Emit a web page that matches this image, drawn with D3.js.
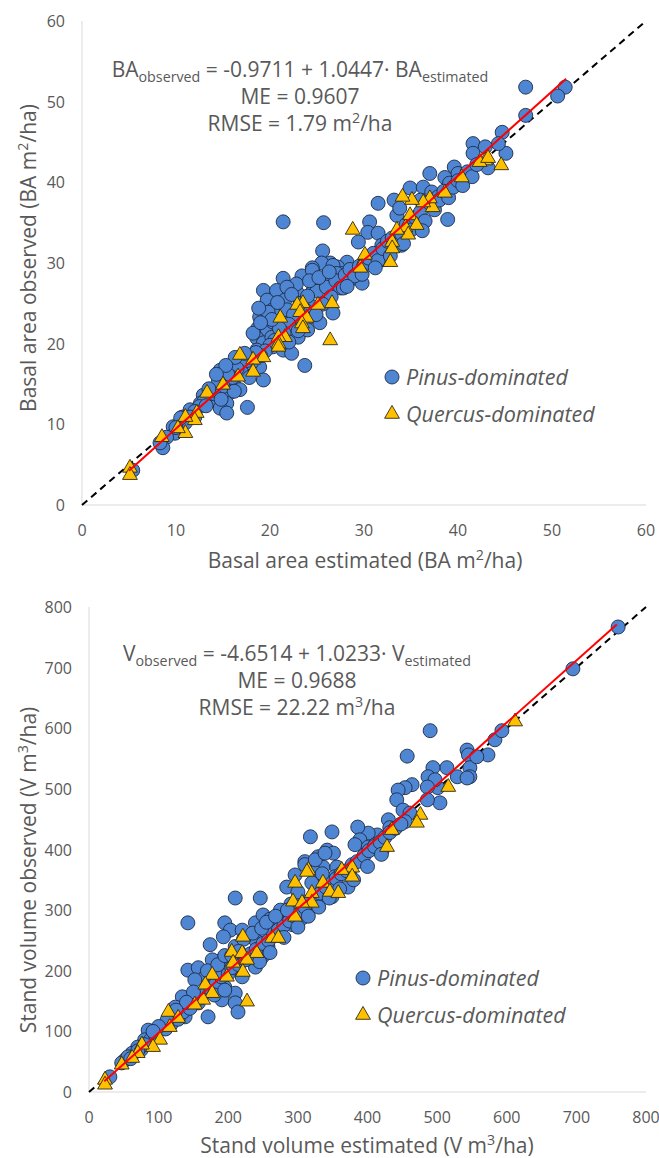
<!DOCTYPE html>
<html><head><meta charset="utf-8">
<script src="https://cdnjs.cloudflare.com/ajax/libs/d3/7.8.5/d3.min.js"></script>
<style>
html,body{margin:0;padding:0;background:#fff;}
svg{display:block;}
text{font-family:"Open Sans",sans-serif;fill:#595959;}
</style></head>
<body>
<svg id="chart" width="659" height="1158"></svg>
<script>
// ---------- DATA (top: basal area, m2/ha) ----------
const baTicks = [0,10,20,30,40,50,60];
const pinusBA = [
[21.4,35.1],[25.7,35],[25.6,31.5],[47.2,51.8],[51.4,51.8],[50.6,50.7],[47.2,48.3],[45.1,43.6],[44.7,46.2],[44.3,44.8],
[41.6,44.8],[42.9,44.4],[41.6,43.6],[43.2,41.8],[39.6,41.9],[40,41.1],[37,41.1],[38.6,40.6],[39.1,39.9],[34.9,39.3],
[36.3,39.4],[37.2,38.8],[37.9,38.2],[36,37.8],[38.9,35.4],[31.5,37.4],[33.2,37.8],[33.5,35.9],[33.8,36.8],[30.6,35.1],
[30.4,33.8],[31.5,33.7],[29.4,32.6],[31.9,32.2],[34,32.2],[32,30.4],[31,30.4],[28.2,30.1],[27.2,29.5],[26.4,30],
[25.5,30],[24.5,29.4],[23.4,28.4],[21.4,28.1],[19.3,26.6],[27.7,28.7],[28.5,27.9],[29.8,27.5],[24.5,29.1],[26.7,29.7],
[19.7,25.4],[20.7,26.6],[21.6,25.4],[22.9,26.3],[24.6,26.6],[26.1,27.5],[27.1,28.7],[18.9,23.3],[20.3,24.2],[18.7,21.9],
[19.7,21.7],[21.1,22.1],[22.1,22.9],[24.6,23.3],[25.3,22.6],[26.7,23.8],[18.6,20.7],[19.3,20.1],[20.3,19.6],[21.4,19.2],
[22.3,18.8],[23.7,17.3],[23,20.8],[24,21.7],[18.6,19.2],[17.6,18.3],[16.8,17.6],[16.1,17.1],[17.9,17.1],[18.9,17.1],
[19.3,15.5],[14.7,16.7],[15.2,15.5],[16.1,15.1],[16.8,14.3],[15.7,13.9],[14.4,14.3],[13.9,13],[12.9,13.6],[15.4,12.6],
[17.6,12.1],[14.7,12],[15.4,11.4],[12.6,12.6],[11.5,11.8],[12,10.9],[10.7,10.9],[10.4,9.9],[9.7,9.7],[9.9,8.9],
[9,8.4],[8.6,7.1],[8.3,7.7],[5.4,4.3],[23.2,25],[21.8,24.2],[23.2,23.3],[21.1,20.8],[20.2,20.8],[20.3,22.7],
[25,26.5],[26,27],[27,27.8],[27.5,26.9],[28,28.5],[28.5,29.2],[29,28.4],[29.5,29.6],[30,29.8],[30.5,30.6],
[31,31.2],[31.5,30.3],[32,31.8],[32.5,32.7],[33,33.1],[33.5,32.2],[34,33.6],[34.5,34.8],[35,34.1],[35.5,35.6],
[36,36.3],[36.5,35.2],[37,37.4],[37.5,36.6],[38,37.8],[38.5,38.9],[39,38.1],[39.5,39.4],[40,40.2],[40.5,39.6],
[41,41.3],[41.5,40.7],[42,42.2],[26.5,25.8],[27.8,26.9],[24.5,24.6],[24,25.9],[23.8,24.1],[22.5,23.6],[22,22.4],
[21.5,21.3],[21,21.9],[20.5,20.4],[20,19.8],[19.5,19.1],[19,18.5],[18.5,18.9],[18,17.6],[17.5,17.9],[17,16.4],
[16.5,16.9],[16,15.8],[15.5,16.2],[15,14.7],[14.5,15.3],[14,13.8],[13.5,14.4],[13,12.9],[12.5,12.2],[12,11.6],
[11.5,10.9],[11,10.2],[10.5,10.8],[10,9.6],[22.8,27.4],[21.8,27],[24.2,27.8],[25.2,28.2],[26.3,28.9],[20.8,25.1],
[19.8,23.9],[22.3,26.1],[25.6,24.9],[28.2,27.1],[29.8,28.6],[31.2,29.4],[32.8,30.9],[34.2,32.4],[36.2,34],[24.9,23.6],
[23,21.6],[22,20.2],[17.8,15.8],[16.2,14.1],[14.8,13.1],[13.2,12.3],[20.2,23],[18.2,21.3],[19,22.6],[18.8,24.4],
[17.3,18.8],[16.3,18.3],[15.3,17.3],[14.3,16.2]
];
const quercusBA = [
[44.6,42.1],[42.9,42.7],[42.3,42.5],[43.2,43],[40.4,40.6],[38.6,38.7],[37.3,36.9],[37,38],[36.3,37.5],[35.1,37.8],
[34.1,38.2],[34.9,35.9],[35.6,34.7],[34.4,34.4],[34.7,33.5],[33.5,34.1],[33,32.6],[33,31.8],[32.8,30.1],[30.1,31],
[28.8,34.1],[29.6,29.4],[26.4,20.4],[26.6,25],[25.1,24.8],[23.5,25],[22.9,24.8],[23.2,23.9],[23.9,23.2],[23.4,22.5],
[23.5,21.9],[21.1,23.2],[21.6,20.8],[20.9,20.8],[20.9,20],[20.9,19.6],[19.3,18.3],[18.2,18],[18.2,16.5],[16.8,18.6],
[16.6,15.9],[15,14.9],[13.3,13.9],[12.2,11.4],[12,10.5],[11,10.9],[11,8.9],[10.2,9.5],[8.5,8.4],[5.1,4.6],[5.1,3.7]
];
const baFit = {intercept:-0.9711, slope:1.0447, from:5, to:51.5};

// ---------- DATA (bottom: stand volume, m3/ha) ----------
const vTicks = [0,100,200,300,400,500,600,700,800];
const pinusV = [
[490,596],[457,554],[543,564],[545,556],[573,556],[583,581],[593,596],[547,535],[547,520],[557,553],
[514,535],[494,535],[487,520],[529,520],[543,518],[501,502],[497,515],[486,503],[504,477],[486,482],
[464,507],[454,502],[444,498],[442,482],[451,465],[461,460],[454,446],[430,449],[432,436],[414,424],
[401,427],[386,437],[389,416],[382,408],[401,404],[411,408],[421,399],[318,421],[349,429],[342,399],
[351,394],[329,388],[310,380],[336,371],[322,366],[356,371],[375,366],[760,767],[695,698],
[210,320],[246,320],[142,279],[174,243],[142,201],[157,205],[195,279],[203,267],[193,256],[220,267],
[239,279],[250,292],[274,284],[284,338],[296,358],[310,375],[325,383],[339,394],[315,300],[307,314],
[335,322],[349,322],[339,350],[353,355],[372,338],[263,267],[277,272],[292,276],[306,287],[239,251],
[257,240],[224,223],[239,206],[249,223],[210,213],[191,218],[177,218],[167,190],[152,185],[181,180],
[195,173],[210,163],[191,152],[210,147],[214,132],[171,124],[157,147],[142,152],[134,157],[124,140],
[138,124],[114,119],[105,107],[85,102],[80,86],[70,74],[62,64],[52,53],[47,48],[30,25],[56,58],
[60,55],[75,70],[88,85],[95,95],[110,104],[118,112],[128,120],[135,132],[145,138],[150,150],
[160,155],[165,165],[175,170],[182,178],[190,190],[200,195],[205,205],[215,210],[225,218],[232,228],
[240,235],[250,245],[258,250],[265,262],[272,268],[280,275],[288,282],[295,290],[302,298],[310,305],
[318,315],[325,322],[332,328],[340,338],[348,345],[355,352],[362,360],[370,365],[378,375],[385,380],
[395,390],[402,398],[410,405],[418,412],[425,420],[432,428],[440,435],[448,442],[170,200],[185,210],
[195,225],[210,240],[222,252],[235,262],[248,270],[260,285],[275,300],[290,310],[300,330],[320,345],
[335,360],[180,160],[195,168],[220,190],[245,215],[260,230],[280,255],[300,272],[315,290],[330,305],
[345,320],[360,335],[380,350],[400,372],[420,392],[205,225],[215,232],[255,280],[268,290],[285,300],
[150,165],[140,148],[125,135],[112,118],[100,108],[92,100],[80,78],[70,68]
];
const quercusV = [
[612,611],[516,503],[476,457],[471,444],[435,432],[428,404],[378,370],[363,366],[315,366],
[313,363],[296,345],[336,345],[346,330],[358,328],[320,328],[293,314],[320,312],[306,312],[296,289],
[263,254],[272,254],[221,256],[205,231],[220,229],[241,229],[227,218],[207,213],[221,198],[198,190],
[177,193],[167,177],[177,163],[164,152],[227,149],[152,144],[114,132],[128,122],[116,107],[102,86],
[92,74],[76,78],[70,64],[62,56],[47,45],[23,20],[23,12],[378,355]
];
const vFit = {intercept:-4.6514, slope:1.0233, from:22, to:758};

// ---------- DRAW ----------
const svg = d3.select("#chart");
const blue = "#4F86D3", blueStroke = "#1E2B45", gold = "#FFC000", goldStroke = "#2F2A14";

function panel(cfg){
  const g = svg.append("g");
  const x = d3.scaleLinear().domain(cfg.domain).range([cfg.left, cfg.right]);
  const y = d3.scaleLinear().domain(cfg.domain).range([cfg.bottom, cfg.top]);

  g.append("line").attr("x1",cfg.left).attr("x2",cfg.left).attr("y1",cfg.top).attr("y2",cfg.bottom)
    .attr("stroke","#D9D9D9").attr("stroke-width",1);
  g.append("line").attr("x1",cfg.left).attr("x2",cfg.right).attr("y1",cfg.bottom).attr("y2",cfg.bottom)
    .attr("stroke","#D9D9D9").attr("stroke-width",1);

  g.selectAll(".xt").data(cfg.ticks).enter().append("text")
    .attr("x",d=>x(d)).attr("y",cfg.bottom+31).attr("text-anchor","middle")
    .style("font-size","16px").text(d=>d);
  g.selectAll(".yt").data(cfg.ticks).enter().append("text")
    .attr("x",cfg.left-cfg.yLabelGap).attr("y",d=>y(d)+6).attr("text-anchor","end")
    .style("font-size","16px").text(d=>d);

  g.append("line").attr("x1",x(cfg.domain[0])).attr("y1",y(cfg.domain[0]))
    .attr("x2",x(cfg.domain[1])).attr("y2",y(cfg.domain[1]))
    .attr("stroke","#000").attr("stroke-width",2).attr("stroke-dasharray","7,5");

  g.selectAll(".p").data(cfg.pinus).enter().append("circle")
    .attr("cx",d=>x(d[0])).attr("cy",d=>y(d[1])).attr("r",7)
    .attr("fill",blue).attr("stroke",blueStroke).attr("stroke-width",0.9);
  const tri = d3.symbol().type(d3.symbolTriangle).size(95);
  g.selectAll(".q").data(cfg.quercus).enter().append("path")
    .attr("d",tri).attr("transform",d=>`translate(${x(d[0])},${y(d[1])})`)
    .attr("fill",gold).attr("stroke",goldStroke).attr("stroke-width",0.9);

  const f = cfg.fit;
  g.append("line").attr("x1",x(f.from)).attr("y1",y(f.intercept+f.slope*f.from))
    .attr("x2",x(f.to)).attr("y2",y(f.intercept+f.slope*f.to))
    .attr("stroke","#FF0000").attr("stroke-width",2);

  const es = cfg.eqSize, ss = es*0.68;
  const eq = g.append("text").attr("x",cfg.eqX).attr("y",cfg.eqY).attr("text-anchor","middle").style("font-size",es+"px");
  eq.append("tspan").text(cfg.sym);
  eq.append("tspan").attr("dy",5).style("font-size",ss+"px").text("observed");
  eq.append("tspan").attr("dy",-5).text(" = " + cfg.eqText + " " + cfg.sym);
  eq.append("tspan").attr("dy",5).style("font-size",ss+"px").text("estimated");
  g.append("text").attr("x",cfg.eqX).attr("y",cfg.eqY+27).attr("text-anchor","middle")
    .style("font-size",es+"px").text(cfg.me);
  const r = g.append("text").attr("x",cfg.eqX).attr("y",cfg.eqY+54).attr("text-anchor","middle").style("font-size",es+"px");
  r.append("tspan").text(cfg.rmse + " m");
  r.append("tspan").attr("dy",-8).style("font-size",ss+"px").text(cfg.pow);
  r.append("tspan").attr("dy",8).text("/ha");

  g.append("circle").attr("cx",cfg.legX).attr("cy",cfg.legY).attr("r",7)
    .attr("fill",blue).attr("stroke",blueStroke).attr("stroke-width",0.9);
  g.append("path").attr("d",tri).attr("transform",`translate(${cfg.legX},${cfg.legY+37})`)
    .attr("fill",gold).attr("stroke",goldStroke).attr("stroke-width",0.9);
  g.append("text").attr("x",cfg.legX+14).attr("y",cfg.legY+8).style("font-size","21.5px").style("font-style","italic").text("Pinus-dominated");
  g.append("text").attr("x",cfg.legX+14).attr("y",cfg.legY+45).style("font-size","21.5px").style("font-style","italic").text("Quercus-dominated");

  const ts = cfg.titleSize;
  const xt = g.append("text").attr("x",cfg.xTitleX).attr("y",cfg.xTitleY).attr("text-anchor","middle").style("font-size",ts+"px");
  xt.append("tspan").text(cfg.xTitle[0]);
  xt.append("tspan").attr("dy",-8).style("font-size",(ts*0.68)+"px").text(cfg.pow);
  xt.append("tspan").attr("dy",8).text(cfg.xTitle[1]);
  const yt = g.append("text").attr("transform",`translate(${cfg.yTitleX},${cfg.yTitleY}) rotate(-90)`).attr("text-anchor","middle").style("font-size",ts+"px");
  yt.append("tspan").text(cfg.yTitle[0]);
  yt.append("tspan").attr("dy",-8).style("font-size",(ts*0.68)+"px").text(cfg.pow);
  yt.append("tspan").attr("dy",8).text(cfg.yTitle[1]);
}

panel({domain:[0,60], ticks:baTicks, left:82, right:646, top:21, bottom:505, yLabelGap:17,
  pinus:pinusBA, quercus:quercusBA, fit:baFit,
  sym:"BA", eqText:"-0.9711 + 1.0447·", me:"ME = 0.9607", rmse:"RMSE = 1.79", pow:"2",
  eqX:300, eqY:77, eqSize:21,
  legX:392, legY:377,
  xTitle:["Basal area estimated (BA m","/ha)"], xTitleX:365, xTitleY:568, titleSize:21,
  yTitle:["Basal area observed (BA m","/ha)"], yTitleX:36, yTitleY:258});

panel({domain:[0,800], ticks:vTicks, left:89, right:646, top:607, bottom:1092, yLabelGap:17,
  pinus:pinusV, quercus:quercusV, fit:vFit,
  sym:"V", eqText:"-4.6514 + 1.0233·", me:"ME = 0.9688", rmse:"RMSE = 22.22", pow:"3",
  eqX:297, eqY:661, eqSize:21,
  legX:363, legY:978,
  xTitle:["Stand volume estimated (V m","/ha)"], xTitleX:367, xTitleY:1153, titleSize:21,
  yTitle:["Stand volume observed (V m","/ha)"], yTitleX:36, yTitleY:870});
</script>
</body></html>
